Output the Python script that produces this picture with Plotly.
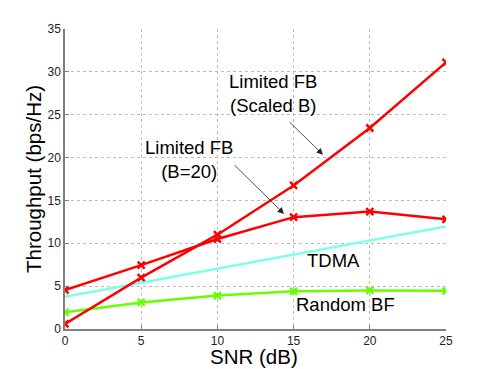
import plotly.graph_objects as go

snr = [0, 5, 10, 15, 20, 25]
fb_scaled = [0.6, 6.0, 11.0, 16.75, 23.45, 31.1]
fb_b20 = [4.55, 7.45, 10.5, 13.05, 13.7, 12.8]
tdma = [3.75, 5.4, 7.05, 8.65, 10.3, 11.95]
random_bf = [1.95, 3.1, 3.9, 4.4, 4.5, 4.45]

RED = "#ff0000"
CYAN = "#80ffe6"
GREEN = "#66ff00"
FONT = "Liberation Sans, Arial, sans-serif"

fig = go.Figure()
fig.add_trace(go.Scatter(x=snr, y=tdma, mode="lines",
                         line=dict(color=CYAN, width=2.5)))
fig.add_trace(go.Scatter(x=snr, y=random_bf, mode="lines+markers",
                         line=dict(color=GREEN, width=2.5),
                         marker=dict(symbol="x-thin", size=7,
                                     line=dict(color=GREEN, width=2.5))))
fig.add_trace(go.Scatter(x=snr, y=fb_b20, mode="lines+markers",
                         line=dict(color=RED, width=2.5),
                         marker=dict(symbol="x-thin", size=7,
                                     line=dict(color=RED, width=2.5))))
fig.add_trace(go.Scatter(x=snr, y=fb_scaled, mode="lines+markers",
                         line=dict(color=RED, width=2.5),
                         marker=dict(symbol="x-thin", size=7,
                                     line=dict(color=RED, width=2.5))))

txt = dict(family=FONT, size=18.5, color="#000000")
anns = [
    dict(x=13.65, y=27.5, text="Limited FB<br>(Scaled B)"),
    dict(x=8.15, y=19.75, text="Limited FB<br>(B=20)"),
    dict(x=17.65, y=8.0, text="TDMA"),
    dict(x=18.4, y=2.9, text="Random BF"),
]
for a in anns:
    fig.add_annotation(xref="x", yref="y", showarrow=False, font=txt, **a)

# arrows
for head, tail in [((16.93, 20.34), (14.63, 24.32)),
                   ((14.37, 13.43), (11.03, 19.29))]:
    fig.add_annotation(x=head[0], y=head[1], ax=tail[0], ay=tail[1],
                       xref="x", yref="y", axref="x", ayref="y", text="",
                       showarrow=True, arrowhead=2, arrowsize=1.6,
                       arrowwidth=0.8, arrowcolor="#222222")

fig.add_annotation(xref="paper", yref="paper", x=0.497, y=-0.092,
                   text="SNR (dB)", showarrow=False, yanchor="middle",
                   borderpad=0,
                   font=dict(family=FONT, size=20.5, color="#000"))
fig.add_annotation(xref="paper", yref="paper", x=-0.084, y=0.5,
                   text="Throughput (bps/Hz)", showarrow=False, textangle=-90,
                   xanchor="center",
                   font=dict(family=FONT, size=20.5, color="#000"))

axis_common = dict(showgrid=True, gridcolor="#bbbbbb", griddash="dot",
                   gridwidth=1, zeroline=False, showline=True,
                   linecolor="#808080", linewidth=1.5, ticks="inside",
                   ticklen=4, tickcolor="#808080",
                   tickfont=dict(family=FONT, size=12, color="#222"))
fig.update_xaxes(range=[0, 25], tickvals=snr, ticklabelstandoff=0, **axis_common)
fig.update_yaxes(range=[0, 35], tickvals=[0, 5, 10, 15, 20, 25, 30, 35],
                 **axis_common)

fig.update_layout(width=491, height=369, showlegend=False,
                  plot_bgcolor="white", paper_bgcolor="white",
                  margin=dict(l=57, r=53, t=21, b=48))
fig.write_html("out.html")
